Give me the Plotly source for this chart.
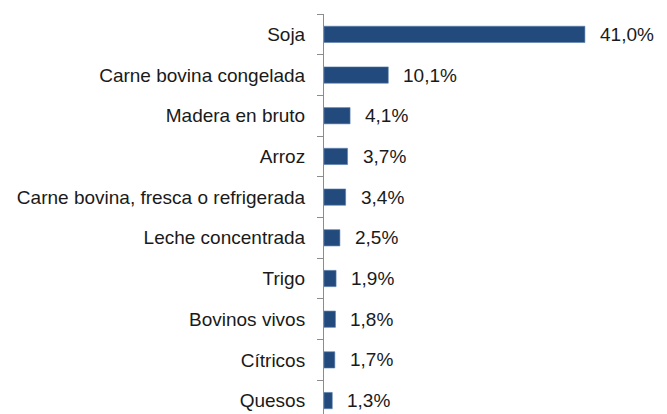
import plotly.graph_objects as go

categories = ["Soja", "Carne bovina congelada", "Madera en bruto", "Arroz",
              "Carne bovina, fresca o refrigerada", "Leche concentrada", "Trigo",
              "Bovinos vivos", "Cítricos", "Quesos"]
values = [41.0, 10.1, 4.1, 3.7, 3.4, 2.5, 1.9, 1.8, 1.7, 1.3]
value_labels = ["41,0%", "10,1%", "4,1%", "3,7%", "3,4%", "2,5%", "1,9%", "1,8%", "1,7%", "1,3%"]

FONT = "Liberation Sans"

fig = go.Figure()
fig.add_trace(go.Bar(
    y=categories, x=values, orientation="h",
    marker=dict(color="#234A7C", line=dict(color="#5B7FAE", width=0.6)),
    width=0.4, hoverinfo="skip",
))

for c, v, t in zip(categories, values, value_labels):
    fig.add_annotation(x=v, y=c, text=t, showarrow=False, xanchor="left",
                       xshift=13, font=dict(family=FONT, size=19, color="#1a1a1a"))

fig.update_layout(
    width=667, height=414,
    margin=dict(l=324, r=0, t=14, b=0),
    paper_bgcolor="white", plot_bgcolor="white",
    showlegend=False,
    xaxis=dict(range=[0, 53.9], visible=False),
    yaxis=dict(
        type="category", categoryorder="array", categoryarray=categories,
        range=[9.33, -0.5],
        showline=True, linecolor="#8C8C8C", linewidth=1,
        ticks="outside", ticklen=6, tickcolor="#8C8C8C", tickson="boundaries",
        showgrid=False, ticklabelstandoff=14,
        tickfont=dict(family=FONT, size=19, color="#1a1a1a"),
    ),
)

fig.write_html("out.html", config={"displayModeBar": False},
               post_script="document.body.style.margin='0';document.body.style.overflow='hidden';")
